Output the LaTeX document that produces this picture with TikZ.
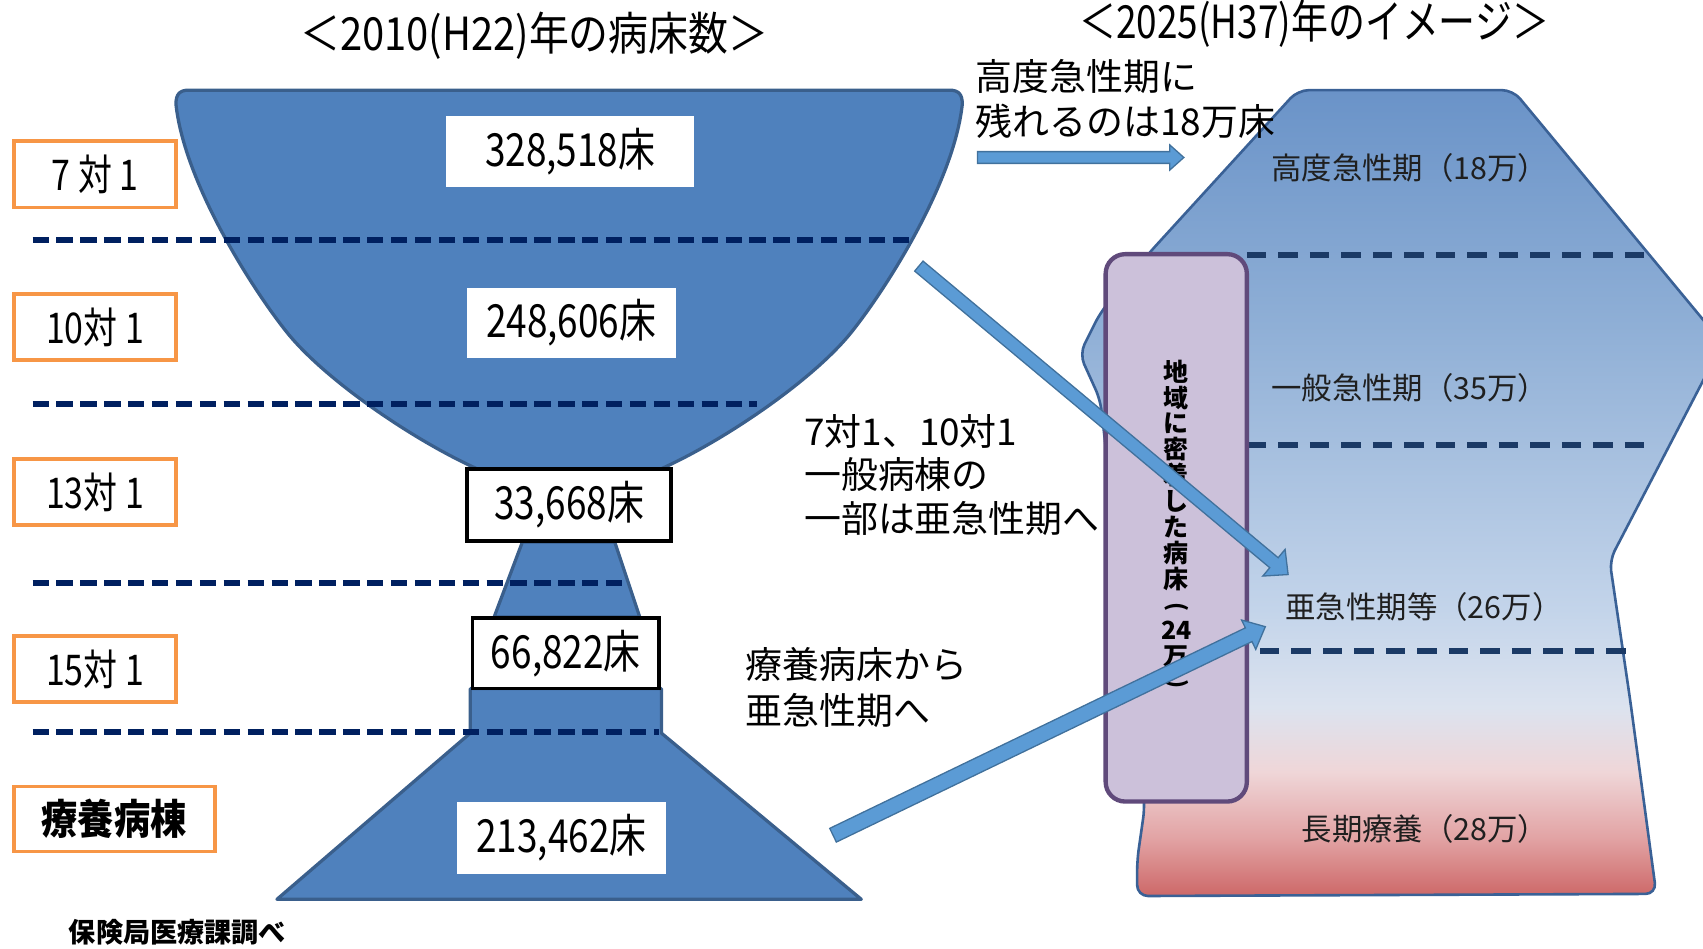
\documentclass[tikz,border=0pt]{standalone}
\usepackage{fontspec}
\usepackage{graphicx}
\setmainfont{Noto Sans CJK JP}
\usetikzlibrary{calc}

\definecolor{barblue}{HTML}{4F81BD}
\definecolor{barline}{HTML}{3A5F8C}
\definecolor{navy}{HTML}{002060}
\definecolor{rdashc}{HTML}{1B3A66}
\definecolor{lblorange}{HTML}{F79646}
\definecolor{arrowfill}{HTML}{5B9BD5}
\definecolor{arrowline}{HTML}{41719C}
\definecolor{lav}{HTML}{CCC1DA}
\definecolor{lavline}{HTML}{604A7B}
\definecolor{rline}{HTML}{3A6196}
\definecolor{sha}{HTML}{6A93C8}
\definecolor{shb}{HTML}{8FAFD6}
\definecolor{shc}{HTML}{C3D4EA}
\definecolor{shd}{HTML}{DCE3EF}
\definecolor{she}{HTML}{EFD6D8}
\definecolor{shf}{HTML}{E2A3A4}
\definecolor{shg}{HTML}{CD6868}

\pgfdeclareverticalshading{futureshade}{100bp}{color(0bp)=(shg); color(25bp)=(shg); color(28.6bp)=(shf); color(32.7bp)=(she); color(36.7bp)=(shd); color(42.8bp)=(shc); color(60.4bp)=(shb); color(75bp)=(sha); color(100bp)=(sha)}

% #1 tail, #2 tip, #3 half shaft width, #4 half head width, #5 head length
\newcommand\blockarrow[5]{%
  \coordinate (hb) at ($(#2)!#5!(#1)$);
  \filldraw[blockarrowstyle] ($(#1)!#3!90:(#2)$) -- ($(hb)!#3!-90:(#1)$) -- ($(hb)!#4!-90:(#1)$) -- (#2) -- ($(hb)!#4!90:(#1)$) -- ($(hb)!#3!90:(#1)$) -- ($(#1)!#3!-90:(#2)$) -- cycle;}
\newcommand\vparen[1]{\rotatebox[origin=c]{-90}{\fontsize{10.5pt}{10.5pt}\selectfont #1}}

\begin{document}
\begin{tikzpicture}[x=0.5pt,y=-0.5pt,
  leftshape/.style={fill=barblue, draw=barline, line width=1.5pt, line join=round},
  ldash/.style={draw=navy, line width=2.6pt, dash pattern=on 7.5pt off 3.5pt},
  rdash/.style={draw=rdashc, line width=2.8pt, dash pattern=on 9pt off 5.5pt},
  lbox/.style={draw=lblorange, line width=1.6pt, fill=white, minimum width=74.5pt, minimum height=30.5pt, inner sep=0pt, font=\fontsize{19.5pt}{19.5pt}\selectfont},
  nbox/.style={fill=white, inner sep=0pt, font=\fontsize{21pt}{21pt}\selectfont},
  nboxb/.style={nbox, draw=black, line width=1.7pt},
  ttl/.style={inner sep=0pt, font=\fontsize{21pt}{21pt}\selectfont},
  anno/.style={inner sep=0pt, anchor=west, font=\fontsize{17pt}{17pt}\selectfont},
  rlabel/.style={inner sep=0pt, text=black!88, font=\fontsize{14pt}{14pt}\selectfont},
  srcnote/.style={inner sep=0pt, anchor=west, font=\bfseries\fontsize{12.5pt}{12.5pt}\selectfont},
  vtext/.style={inner sep=0pt, align=center, font=\bfseries\fontsize{11.5pt}{11.9pt}\selectfont},
  blockarrowstyle/.style={fill=arrowfill, draw=arrowline, line width=0.6pt, line join=miter},
]
\useasboundingbox (0,0) rectangle (1568,873);
\begin{scope}
\clip (0,0) rectangle (1568,873);

% ---------- left: 2010 shape ----------
\filldraw[leftshape] (162,96) .. controls (170,170) and (235,270) .. (265,307)
  .. controls (300,350) and (380,405) .. (440,432) -- (608,432)
  .. controls (668,405) and (748,350) .. (783,307)
  .. controls (813,270) and (878,170) .. (886,96)
  .. controls (886,87) and (883,83) .. (874,83) -- (174,83)
  .. controls (165,83) and (162,87) .. (162,96) -- cycle;
\filldraw[leftshape] (481,499) -- (566,499) -- (589,568) -- (455,568) -- cycle;
\filldraw[leftshape] (433,634) -- (609,634) -- (609,675) -- (793,828) -- (255,828) -- (433,675) -- cycle;

\draw[ldash] (30,221) -- (840,221);
\draw[ldash] (30,372) -- (697,372);
\draw[ldash] (30,537) -- (578,537);
\draw[ldash] (30,674) -- (607,674);

\node[nbox, minimum width=114pt, minimum height=32.5pt] (n1) at (525,139.5) {\scalebox{0.81}[1]{328,518床}};
\node[nbox, minimum width=96pt, minimum height=32.5pt] (n2) at (526,297.5) {\scalebox{0.81}[1]{248,606床}};
\node[nboxb, minimum width=94pt, minimum height=33pt] (n3) at (524,465) {\scalebox{0.81}[1]{33,668床}};
\node[nboxb, minimum width=86pt, minimum height=32.5pt] (n4) at (521,601.5) {\scalebox{0.81}[1]{66,822床}};
\node[nbox, minimum width=96pt, minimum height=33.5pt] (n5) at (517,771.5) {\scalebox{0.81}[1]{213,462床}};

\node[lbox] (l7) at (87.5,160.5) {\scalebox{0.8}[1]{7 対 1}};
\node[lbox] (l10) at (87.5,301) {\scalebox{0.8}[1]{10対 1}};
\node[lbox] (l13) at (87.5,453) {\scalebox{0.8}[1]{13対 1}};
\node[lbox] (l15) at (87.5,616) {\scalebox{0.8}[1]{15対 1}};
\node[lbox, minimum width=92.5pt, minimum height=30pt, font=\bfseries\fontsize{19pt}{19pt}\selectfont] (lr) at (105.25,754) {\scalebox{0.88}[1]{療養病棟}};

\node[srcnote] (src) at (63,858) {保険局医療課調べ};

\node[ttl] (t1) at (492,33) {\scalebox{0.875}[1]{＜2010(H22)年の病床数＞}};
\node[ttl] (t2) at (1210,22) {\scalebox{0.81}[1]{＜2025(H37)年のイメージ＞}};

% ---------- right: 2025 shape ----------
\shadedraw[shading=futureshade, draw=rline, line width=1.2pt, rounded corners=5pt]
  (1195,83) -- (1393,83) -- (1586,316) -- (1482,516) -- (1501,645) -- (1525,823)
  -- (1047,825) -- (1047,792) -- (1054,743) -- (1035,560) -- (1013,368)
  -- (994,326) -- (1013,288) -- (1058,233) -- cycle;

\draw[rdash] (1148,235) -- (1517,235);
\draw[rdash] (1148,410) -- (1516,410);
\draw[rdash] (1160,599) -- (1500,599);

\node[rlabel] (r1) at (1298,155) {高度急性期（18万）};
\node[rlabel] (r2) at (1298,357) {一般急性期（35万）};
\node[rlabel] (r3) at (1311,559) {亜急性期等（26万）};
\node[rlabel] (r4) at (1312,763) {長期療養（28万）};

\node[draw=lavline, fill=lav, line width=2pt, rounded corners=9pt, minimum width=65pt, minimum height=252pt, inner sep=0pt] (pink) at (1083,486) {};
\node[vtext] (vt) at (1083,484) {地\\域\\に\\密\\着\\し\\た\\病\\床\\\vparen{(}\\24\\万\\\vparen{)}};

% ---------- annotations ----------
\node[anno] (a1) at (898,70) {高度急性期に};
\node[anno] (a2) at (898,112) {残れるのは18万床};
\node[anno] (b1) at (740,397) {7対1、10対1};
\node[anno] (b2) at (740,437) {一般病棟の};
\node[anno] (b3) at (740,477) {一部は亜急性期へ};
\node[anno] (c1) at (686,612) {療養病床から};
\node[anno] (c2) at (686,654) {亜急性期へ};

% ---------- arrows ----------
\coordinate (h1) at (900,145);
\coordinate (h2) at (1090,145);
\coordinate (d1) at (846,245);
\coordinate (d2) at (1186,529);
\coordinate (e1) at (767,769);
\coordinate (e2) at (1165,577);
\blockarrow{h1}{h2}{2.7pt}{5.8pt}{6.5pt}
\blockarrow{d1}{d2}{3pt}{8pt}{8.5pt}
\blockarrow{e1}{e2}{3.5pt}{7.5pt}{8.5pt}
\end{scope}
\end{tikzpicture}
\end{document}
